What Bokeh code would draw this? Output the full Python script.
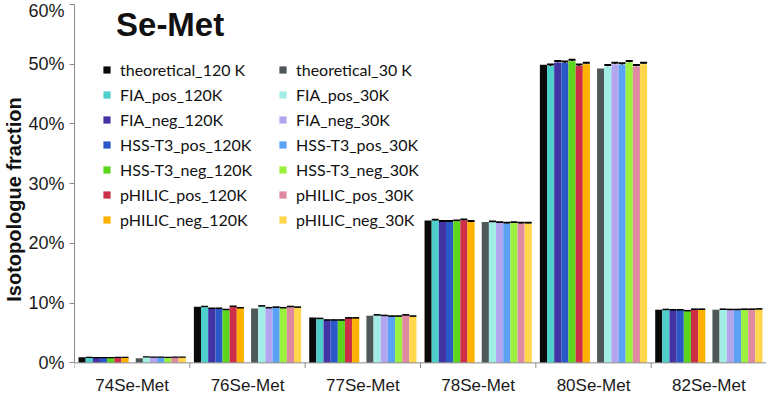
from bokeh.plotting import figure
from bokeh.models import (FixedTicker, PrintfTickFormatter, Legend, LegendItem, Label, Span,
                          Whisker, ColumnDataSource, Range1d, TeeHead)
from bokeh.core.properties import value
from bokeh.embed import file_html
from bokeh.resources import INLINE

categories = ["74Se-Met", "76Se-Met", "77Se-Met", "78Se-Met", "80Se-Met", "82Se-Met"]
y_ticks = [0, 10, 20, 30, 40, 50, 60]

# values in percent
theoretical_120K = [0.95, 9.4, 7.6, 23.85, 49.9, 8.9]
FIA_pos_120K     = [0.80, 9.3, 7.3, 23.8, 49.7, 8.8]
FIA_neg_120K     = [0.75, 9.0, 7.05, 23.6, 50.3, 8.75]
HSS_T3_pos_120K  = [0.75, 9.0, 7.05, 23.6, 50.2, 8.75]
HSS_T3_neg_120K  = [0.75, 8.8, 7.05, 23.7, 50.5, 8.6]
pHILIC_pos_120K  = [0.80, 9.35, 7.4, 23.85, 49.7, 8.85]
pHILIC_neg_120K  = [0.80, 9.1, 7.4, 23.6, 50.0, 8.85]
theoretical_30K  = [0.75, 9.1, 7.9, 23.6, 49.3, 8.9]
FIA_pos_30K      = [0.90, 9.4, 7.9, 23.5, 49.6, 8.85]
FIA_neg_30K      = [0.85, 9.1, 7.8, 23.4, 50.0, 8.8]
HSS_T3_pos_30K   = [0.85, 9.2, 7.7, 23.3, 49.9, 8.8]
HSS_T3_neg_30K   = [0.80, 9.1, 7.7, 23.4, 50.3, 8.85]
pHILIC_pos_30K   = [0.85, 9.3, 7.9, 23.3, 49.6, 8.85]
pHILIC_neg_30K   = [0.85, 9.2, 7.7, 23.3, 50.0, 8.9]

err_120K = [0.05, 0.1, 0.1, 0.15, 0.25, 0.1]
err_30K  = [0.05, 0.1, 0.1, 0.15, 0.25, 0.1]

labels_120K = ["theoretical_120 K", "FIA_pos_120K", "FIA_neg_120K", "HSS-T3_pos_120K",
               "HSS-T3_neg_120K", "pHILIC_pos_120K", "pHILIC_neg_120K"]
labels_30K = ["theoretical_30 K", "FIA_pos_30K", "FIA_neg_30K", "HSS-T3_pos_30K",
              "HSS-T3_neg_30K", "pHILIC_pos_30K", "pHILIC_neg_30K"]
series_120K = [theoretical_120K, FIA_pos_120K, FIA_neg_120K, HSS_T3_pos_120K,
               HSS_T3_neg_120K, pHILIC_pos_120K, pHILIC_neg_120K]
series_30K = [theoretical_30K, FIA_pos_30K, FIA_neg_30K, HSS_T3_pos_30K,
              HSS_T3_neg_30K, pHILIC_pos_30K, pHILIC_neg_30K]
colors_120K = ["#0a0a0a", "#4ecfcc", "#4234a4", "#2b58c8", "#5cd61c", "#cc2f47", "#ffb100"]
colors_30K = ["#4e5858", "#a2ede6", "#b4a6ee", "#5ba2f6", "#9cf03e", "#e08aa2", "#ffd64c"]

# frame reaches the bottom of the figure; the category axis is drawn at y = 0 inside it
p = figure(width=766, height=394, x_range=Range1d(0, 6), y_range=Range1d(-5.3, 60),
           output_backend="svg", toolbar_location=None, x_axis_location=None,
           min_border_left=66, min_border_right=0, min_border_top=4, min_border_bottom=0)
p.outline_line_color = None
p.grid.visible = False
p.background_fill_color = "white"
p.border_fill_color = "white"

slot = 0.062
margin = (1 - 15 * slot) / 2

renderers_120K, renderers_30K = [], []
wx, wlo, whi = [], [], []
for k in range(7):
    for block, ser_list, cols, rlist, errs in ((0, series_120K, colors_120K, renderers_120K, err_120K),
                                               (8, series_30K, colors_30K, renderers_30K, err_30K)):
        j = block + k
        xs = [i + margin + (j + 0.5) * slot for i in range(len(categories))]
        vals = ser_list[k]
        src = ColumnDataSource(dict(x=xs, top=vals))
        r = p.vbar(x="x", top="top", bottom=0, width=slot, source=src, fill_color=cols[k], line_color=None)
        rlist.append(r)
        if k > 0:
            wx += xs
            wlo += vals
            whi += [v + e for v, e in zip(vals, errs)]

wsrc = ColumnDataSource(dict(x=wx, lower=wlo, upper=whi))
p.add_layout(Whisker(source=wsrc, base="x", lower="lower", upper="upper", line_color="black",
                     line_width=1.5, lower_head=None,
                     upper_head=TeeHead(size=7, line_color="black", line_width=2)))

# category axis
axis_grey = "#8c8c8c"
p.add_layout(Span(location=0, dimension="width", line_color=axis_grey, line_width=1))
px_per_unit = 351 / 60.0
tick_len = 5 / px_per_unit
bounds = list(range(len(categories) + 1))
p.segment(x0=bounds, y0=[0] * len(bounds), x1=bounds, y1=[-tick_len] * len(bounds),
          line_color=axis_grey, line_width=1)
p.text(x=[i + 0.5 for i in range(len(categories))], y=[-22 / px_per_unit] * len(categories),
       text=categories, text_align="center", text_baseline="middle",
       text_font=value("Liberation Sans"), text_font_size="17px", text_color="#1a1a1a")

ya = p.yaxis[0]
ya.bounds = (0, 60)
ya.ticker = FixedTicker(ticks=y_ticks, minor_ticks=[])
ya.formatter = PrintfTickFormatter(format="%d%%")
ya.major_tick_out = 5
ya.major_tick_in = 0
ya.major_tick_line_color = axis_grey
ya.axis_line_color = axis_grey
ya.major_label_text_font = "Liberation Sans"
ya.major_label_text_font_size = "18px"
ya.major_label_text_color = "#1a1a1a"
ya.major_label_standoff = 5
ya.axis_label = "Isotopologue fraction"
ya.axis_label_text_font = "Liberation Sans"
ya.axis_label_text_font_style = "bold"
ya.axis_label_text_font_size = "20px"
ya.axis_label_text_color = "#111111"
ya.axis_label_standoff = 0

p.add_layout(Label(x=0.36, y=56.6, text="Se-Met", text_font="Liberation Sans",
                   text_font_style="bold", text_font_size="33px", text_color="#111111",
                   text_baseline="alphabetic"))

def make_legend(labels, rends, loc):
    return Legend(items=[LegendItem(label=l, renderers=[r]) for l, r in zip(labels, rends)],
                  location=loc, glyph_width=9, glyph_height=9, label_standoff=9, spacing=6,
                  label_text_font="Lato", label_text_font_size="16px", label_height=15,
                  label_text_color="#111111",
                  background_fill_alpha=0, border_line_alpha=0, padding=0, margin=0)

p.add_layout(make_legend(labels_120K, renderers_120K, (28, 165)))
p.add_layout(make_legend(labels_30K, renderers_30K, (204, 165)))

open("out.html", "w").write(file_html(p, INLINE))
